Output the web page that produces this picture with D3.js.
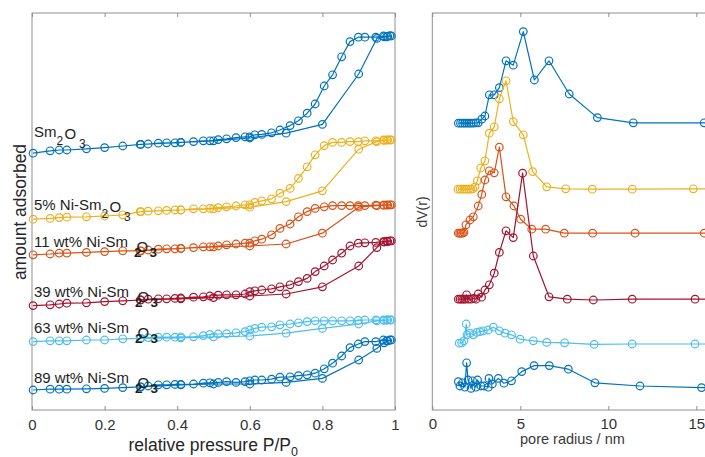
<!DOCTYPE html>
<html>
<head>
<meta charset="utf-8">
<script src="https://cdn.jsdelivr.net/npm/d3@7"></script>
<style>
  body { margin: 0; background: #fff; }
  svg { display: block; }
  text { font-family: "Liberation Sans", Arial, Helvetica, sans-serif; }
</style>
</head>
<body>
<svg id="chart" width="705" height="457"></svg>
<script>
// ---------- N2 physisorption isotherms (curves offset vertically, a.u.) ----------
const sampleNames = ["Sm2O3", "5% Ni-Sm2O3", "11 wt% Ni-Sm2O3", "39 wt% Ni-Sm2O3", "63 wt% Ni-Sm2O3", "89 wt% Ni-Sm2O3"];
const labelPrefixes = ["Sm", "5% Ni-Sm", "11 wt% Ni-Sm", "39 wt% Ni-Sm", "63 wt% Ni-Sm", "89 wt% Ni-Sm"];

// relative pressure P/P0 of adsorption and desorption branches
const pAds = [0.003, 0.05, 0.075, 0.096, 0.15, 0.2, 0.25, 0.3, 0.41, 0.5, 0.6, 0.7, 0.8, 0.9, 0.95, 0.97, 0.98, 0.99];
const pDes = [0.986, 0.977, 0.968, 0.947, 0.917, 0.899, 0.876, 0.853, 0.828, 0.805, 0.78, 0.758, 0.734, 0.711, 0.683, 0.66,
              0.633, 0.614, 0.6, 0.587, 0.562, 0.536, 0.513, 0.49, 0.472, 0.445, 0.41, 0.394, 0.371, 0.348, 0.32, 0.298];

const adsSm2O3 = [64.2, 64.8, 65.0, 65.0, 65.3, 65.6, 66.0, 66.4, 66.9, 67.3, 68.0, 69.2, 71.4, 84.0, 92.9, 93.3, 93.4, 93.5];
const desSm2O3 = [93.6, 93.3, 93.5, 93.2, 93.2, 93.2, 92.1, 88.3, 83.8, 81.0, 76.5, 74.2, 72.3, 71.1, 70.0, 69.3,
                  68.9, 68.8, 68.3, 68.3, 68.1, 67.8, 67.6, 67.3, 67.3, 67.1, 66.9, 66.8, 66.8, 66.7, 66.5, 66.4];

const adsNi5 = [47.7, 47.9, 48.1, 48.2, 48.3, 48.5, 48.8, 49.6, 50.0, 50.3, 50.7, 52.1, 54.8, 65.2, 67.1, 67.4, 67.5, 67.5];
const desNi5 = [67.5, 67.5, 67.5, 67.3, 67.3, 67.1, 67.1, 66.9, 66.9, 66.1, 63.8, 60.8, 57.9, 55.4, 54.2, 52.8,
                52.3, 51.9, 51.3, 51.3, 51.0, 50.8, 50.6, 50.4, 50.3, 50.3, 50.0, 50.0, 49.9, 49.8, 49.7, 49.6];

const adsNi11 = [38.8, 39.0, 39.2, 39.2, 39.4, 39.6, 39.8, 39.8, 40.4, 40.8, 41.0, 41.5, 44.2, 50.7, 51.1, 51.2, 51.2, 51.3];
const desNi11 = [51.3, 51.3, 51.2, 51.2, 51.1, 51.1, 51.1, 51.1, 51.1, 50.8, 50.4, 49.6, 48.3, 46.5, 45.4, 43.8,
                 42.7, 42.3, 41.7, 41.7, 41.5, 41.3, 41.0, 40.8, 40.8, 40.6, 40.4, 40.3, 40.3, 40.2, 40.0, 39.8];

const adsNi39 = [26.1, 26.3, 26.5, 26.7, 26.8, 27.1, 27.3, 27.5, 27.8, 28.1, 28.5, 29.0, 30.8, 36.0, 40.6, 42.0, 42.1, 42.3];
const desNi39 = [42.3, 42.2, 42.1, 41.9, 41.8, 41.7, 41.0, 39.2, 37.5, 36.0, 34.6, 32.9, 32.1, 31.3, 30.8, 30.3,
                 30.0, 29.8, 29.6, 29.0, 28.8, 28.8, 28.7, 28.5, 28.3, 28.2, 28.0, 27.9, 27.8, 27.8, 27.7, 27.5];

const adsNi63 = [17.1, 17.3, 17.3, 17.3, 17.5, 17.5, 17.8, 17.9, 18.0, 18.3, 18.5, 19.2, 20.4, 21.5, 22.3, 22.4, 22.5, 22.5];
const desNi63 = [22.5, 22.5, 22.5, 22.5, 22.5, 22.4, 22.3, 22.3, 22.3, 22.3, 22.3, 22.1, 21.8, 21.5, 21.3, 20.8,
                 20.7, 20.4, 20.0, 19.6, 19.3, 19.1, 19.0, 18.9, 18.6, 18.3, 18.3, 18.2, 18.2, 18.2, 18.1, 17.9];

const adsNi89 = [5.0, 5.2, 5.2, 5.2, 5.3, 5.4, 5.6, 5.8, 6.3, 6.5, 6.5, 6.9, 7.9, 12.5, 15.4, 16.8, 17.3, 17.5];
const desNi89 = [17.5, 17.3, 17.5, 17.1, 17.1, 16.5, 15.6, 13.5, 11.7, 10.3, 9.2, 8.8, 8.6, 8.3, 8.2, 7.7,
                 7.5, 7.5, 7.3, 7.1, 6.9, 7.1, 6.9, 6.8, 6.7, 6.5, 6.4, 6.4, 6.3, 6.3, 6.0, 5.8];

// ---------- BJH pore size distributions (curves offset vertically, a.u.) ----------
const rSm2O3 = [1.48, 1.6, 1.72, 1.84, 1.96, 2.08, 2.2, 2.34, 2.48, 2.61, 2.81, 2.99, 3.24, 3.52, 3.81, 4.19, 4.6, 5.17, 5.8, 6.63, 7.78, 9.38, 11.42, 15.45, 19.6];
const dvSm2O3 = [71.7, 71.7, 71.7, 71.7, 71.7, 71.7, 71.7, 71.7, 71.8, 71.8, 72.7, 73.5, 78.8, 78.8, 80.6, 87.3, 86.2, 94.6, 82.5, 87.3, 79.0, 73.1, 71.8, 71.8, 71.8];

const rNi5 = [1.46, 1.58, 1.7, 1.82, 1.94, 2.06, 2.18, 2.3, 2.43, 2.56, 2.75, 2.99, 3.24, 3.52, 3.81, 4.19, 4.6, 5.17, 5.7, 6.5, 7.58, 9.09, 11.36, 14.83, 19.4];
const dvNi5 = [55.2, 55.2, 55.2, 55.2, 55.2, 55.2, 55.2, 55.3, 55.8, 57.3, 60.5, 62.3, 69.2, 70.8, 77.8, 82.3, 72.1, 68.8, 59.6, 55.8, 55.3, 55.2, 55.2, 55.3, 55.3];

const rNi11 = [1.48, 1.56, 1.64, 1.72, 1.8, 1.91, 2.14, 2.33, 2.61, 2.81, 2.99, 3.24, 3.52, 3.81, 4.19, 4.64, 5.02, 5.65, 6.44, 7.5, 9.11, 11.52, 15.45, 19.6];
const dvNi11 = [44.2, 44.2, 44.2, 44.2, 44.4, 46.3, 47.5, 48.3, 51.0, 53.9, 57.5, 59.8, 59.3, 65.7, 53.3, 51.0, 47.7, 45.2, 45.2, 44.2, 44.2, 44.2, 44.2, 44.2];

const rNi39 = [1.48, 1.58, 1.68, 1.78, 1.88, 1.95, 2.05, 2.2, 2.35, 2.48, 2.61, 2.8, 2.99, 3.24, 3.52, 3.81, 4.19, 4.6, 5.13, 5.74, 6.63, 7.67, 9.15, 11.36, 14.93, 19.5];
const dvNi39 = [27.7, 27.7, 27.7, 27.7, 27.7, 28.8, 27.7, 27.7, 27.9, 27.7, 29.0, 28.2, 30.0, 31.3, 34.2, 39.4, 44.8, 43.1, 59.2, 38.5, 28.3, 27.7, 27.5, 27.7, 27.7, 27.7];

const rNi63 = [1.53, 1.67, 1.8, 1.93, 1.97, 2.14, 2.33, 2.52, 2.71, 2.9, 3.18, 3.47, 3.81, 4.13, 4.5, 4.99, 5.74, 6.5, 7.52, 9.2, 11.36, 14.93, 19.5];
const dvNi63 = [16.7, 16.8, 17.3, 21.5, 18.8, 19.2, 18.8, 19.4, 19.6, 19.8, 20.0, 20.7, 19.8, 19.2, 18.8, 17.7, 17.3, 16.9, 16.8, 16.4, 16.5, 16.5, 16.5];

const rNi89 = [1.48, 1.57, 1.72, 1.85, 1.95, 2.03, 2.2, 2.29, 2.48, 2.57, 2.76, 2.94, 3.18, 3.22, 3.41, 3.75, 4.07, 4.5, 5.08, 5.78, 6.65, 7.73, 9.24, 11.8, 15.3, 19.5];
const dvNi89 = [7.1, 6.0, 6.8, 5.7, 11.8, 7.5, 5.4, 7.3, 5.7, 7.5, 6.0, 6.0, 5.7, 7.9, 6.5, 7.9, 6.7, 7.3, 9.6, 11.1, 11.1, 10.2, 6.8, 6.0, 5.6, 5.5];

// ---------- axis ticks ----------
const pressureTicks = [0, 0.2, 0.4, 0.6, 0.8, 1];
const pressureTickLabels = ["0", "0.2", "0.4", "0.6", "0.8", "1"];
const radiusTicks = [0, 5, 10, 15, 20];
const radiusTickLabels = ["0", "5", "10", "15", "20"];

// ---------- assemble ----------
const colors = ["#0072BD", "#EDB120", "#D95319", "#A2142F", "#4DBEEE", "#0072BD"];
const adsBranches = [adsSm2O3, adsNi5, adsNi11, adsNi39, adsNi63, adsNi89];
const desBranches = [desSm2O3, desNi5, desNi11, desNi39, desNi63, desNi89];
const radii = [rSm2O3, rNi5, rNi11, rNi39, rNi63, rNi89];
const dvs = [dvSm2O3, dvNi5, dvNi11, dvNi39, dvNi63, dvNi89];

const isotherms = sampleNames.map((name, i) => ({
  name, color: colors[i],
  points: pAds.map((p, j) => [p, adsBranches[i][j]]).concat(pDes.map((p, j) => [p, desBranches[i][j]]))
}));
const psds = sampleNames.map((name, i) => ({
  name, color: colors[i],
  points: radii[i].map((r, j) => [r, dvs[i][j]])
}));

const svg = d3.select("#chart");
const plotTop = 13, plotBottom = 410;
const boxColor = "#8f8f8f";
const tickText = "#333";

const xP = d3.scaleLinear().domain([0, 1]).range([32, 395]);
const yA = d3.scaleLinear().domain([0, 99.25]).range([plotBottom, plotTop]);
const xR = d3.scaleLinear().domain([0, 20]).range([432.3, 784.3]);
const yV = d3.scaleLinear().domain([0, 99.25]).range([plotBottom, plotTop]);

svg.append("defs").append("clipPath").attr("id", "clipR")
  .append("rect").attr("x", xR(0)).attr("y", plotTop - 6)
  .attr("width", xR(20) - xR(0)).attr("height", plotBottom - plotTop + 12);

function frame(x, ticks, labels, fontSize, labelY) {
  const [x0, x1] = x.range();
  svg.append("rect").attr("x", x0).attr("y", plotTop).attr("width", x1 - x0)
    .attr("height", plotBottom - plotTop).attr("fill", "none")
    .attr("stroke", boxColor).attr("stroke-width", 1);
  const gb = svg.append("g").attr("transform", `translate(0,${plotBottom})`)
    .call(d3.axisBottom(x).tickValues(ticks).tickSize(-4).tickSizeOuter(0)
      .tickFormat((d, i) => labels[i]));
  gb.select(".domain").remove();
  gb.selectAll(".tick line").attr("stroke", boxColor);
  gb.selectAll(".tick text").attr("y", labelY).attr("dy", null)
    .attr("fill", tickText).style("font-size", fontSize + "px")
    .style("font-family", '"Liberation Sans", Arial, sans-serif');
  const gt = svg.append("g").attr("transform", `translate(0,${plotTop})`)
    .call(d3.axisTop(x).tickValues(ticks).tickSize(-4).tickSizeOuter(0).tickFormat(""));
  gt.select(".domain").remove();
  gt.selectAll(".tick line").attr("stroke", boxColor);
}

frame(xP, pressureTicks, pressureTickLabels, 15, 19.5);
frame(xR, radiusTicks, radiusTickLabels, 15, 18.5);

function drawSeries(g, series, x, y) {
  const line = d3.line().x(d => x(d[0])).y(d => y(d[1]));
  series.forEach(s => {
    const gs = g.append("g");
    gs.append("path").attr("d", line(s.points)).attr("fill", "none")
      .attr("stroke", s.color).attr("stroke-width", 1.2).attr("stroke-linejoin", "round");
    gs.selectAll("circle").data(s.points).join("circle")
      .attr("cx", d => x(d[0])).attr("cy", d => y(d[1])).attr("r", 3.8)
      .attr("fill", "none").attr("stroke", s.color).attr("stroke-width", 1.2);
  });
}

drawSeries(svg.append("g"), isotherms, xP, yA);
drawSeries(svg.append("g").attr("clip-path", "url(#clipR)"), psds, xR, yV);

// ---------- sample labels on the isotherms ----------
const labelLift = [16, 9, 8.3, 8.7, 8.7, 7.5];
const subStyles = {
  plain: { two: [0, 8, 12, "normal"], o: [8, 1.5], three: [22.5, 10.5, 12, "normal"] },
  shifted: { two: [6, 10, 13.5, "bold"], o: [8.5, 5], three: [21.5, 10, 13.5, "bold"] }
};
const labelKinds = ["plain", "plain", "shifted", "shifted", "shifted", "shifted"];
const gl = svg.append("g").attr("fill", "#1e1e1e");
labelPrefixes.forEach((prefix, i) => {
  const x0 = 34;
  const base = yA(adsBranches[i][0]) - labelLift[i];
  const t = gl.append("text").attr("x", x0).attr("y", base).style("font-size", "15px").text(prefix);
  const end = x0 + t.node().getComputedTextLength();
  const st = subStyles[labelKinds[i]];
  gl.append("text").attr("x", end + st.two[0]).attr("y", base + st.two[1])
    .style("font-size", st.two[2] + "px").style("font-weight", st.two[3]).text("2");
  gl.append("text").attr("x", end + st.o[0]).attr("y", base + st.o[1])
    .style("font-size", "15px").text("O");
  gl.append("text").attr("x", end + st.three[0]).attr("y", base + st.three[1])
    .style("font-size", st.three[2] + "px").style("font-weight", st.three[3]).text("3");
});

// ---------- axis titles ----------
const title = svg.append("g").attr("fill", "#262626");
const xt = title.append("text").attr("x", 128.5).attr("y", 450.5).style("font-size", "17.5px");
xt.append("tspan").text("relative pressure P/P");
xt.append("tspan").attr("dy", 5).style("font-size", "12.5px").text("0");

title.append("text").attr("transform", "translate(25.5,212) rotate(-90)")
  .attr("text-anchor", "middle").style("font-size", "17.5px").text("amount adsorbed");

title.append("text").attr("x", 520).attr("y", 443.5).attr("fill", "#3a3a3a")
  .style("font-size", "14.5px").text("pore radius / nm");

title.append("text").attr("transform", "translate(427,212) rotate(-90)")
  .attr("text-anchor", "middle").attr("fill", "#3a3a3a").style("font-size", "14px").text("dV(r)");
</script>
</body>
</html>
